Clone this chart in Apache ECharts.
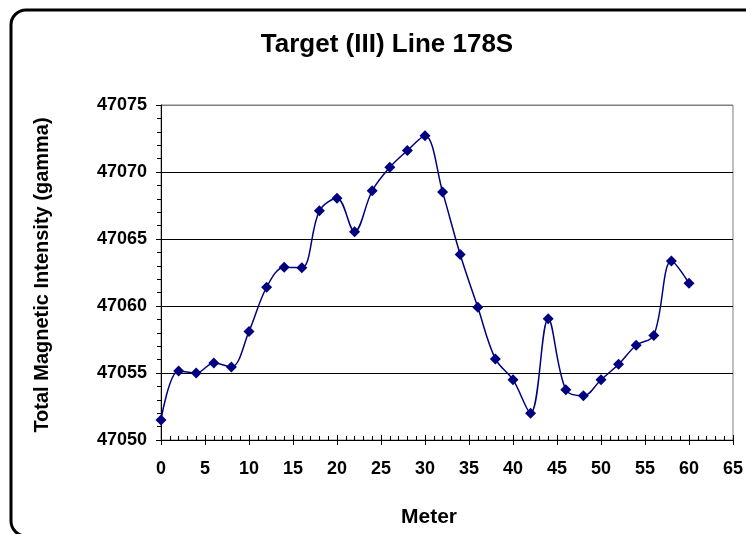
<!DOCTYPE html>
<html>
<head>
<meta charset="utf-8">
<script src="https://cdn.jsdelivr.net/npm/echarts@6/dist/echarts.min.js"></script>
<style>
  html, body { margin: 0; padding: 0; background: #fff; }
  #main { width: 746px; height: 534px; }
</style>
</head>
<body>
<div id="main"></div>
<script>
  // distance along the line (m)
  var meters = [0, 2, 4, 6, 8, 10, 12, 14, 16, 18, 20, 22, 24, 26, 28, 30,
                32, 34, 36, 38, 40, 42, 44, 46, 48, 50, 52, 54, 56, 58, 60];
  // total magnetic intensity (gamma)
  var intensity = [47051.5, 47055.15, 47055.0, 47055.75, 47055.45, 47058.1, 47061.4, 47062.9,
                   47062.85, 47067.1, 47068.05, 47065.55, 47068.6, 47070.35, 47071.6, 47072.7,
                   47068.5, 47063.85, 47059.9, 47056.05, 47054.5, 47052.0, 47059.05, 47053.75,
                   47053.3, 47054.5, 47055.65, 47057.07, 47057.8, 47063.35, 47061.7];

  var xMin = 0, xMax = 65, xStep = 5;
  var yMin = 47050, yMax = 47075, yStep = 5;

  var labelFont = { color: '#000', fontFamily: 'Liberation Sans, Arial', fontWeight: 'bold', fontSize: 18 };

  var points = meters.map(function (m, i) { return [m, intensity[i]]; });

  var myChart = echarts.init(document.getElementById('main'));
  myChart.setOption({
    backgroundColor: '#fff',
    animation: false,
    grid: {
      left: 161, right: 13, top: 105, bottom: 94,
      show: true, borderColor: '#808080', borderWidth: 1, backgroundColor: 'transparent'
    },
    xAxis: [{
      type: 'value', min: xMin, max: xMax, interval: xStep, position: 'bottom',
      axisLine: { lineStyle: { color: '#000', width: 1 } },
      axisTick: { show: true, inside: false, length: 5, lineStyle: { color: '#000' } },
      axisLabel: Object.assign({ margin: 20, showMaxLabel: true, showMinLabel: true }, labelFont),
      splitLine: { show: false }
    }, {
      // inner half of major ticks plus minor ticks
      type: 'value', min: xMin, max: xMax, interval: xStep, position: 'bottom', offset: 0,
      axisLine: { show: false },
      axisTick: { show: true, inside: true, length: 5, lineStyle: { color: '#000' } },
      minorTick: { show: true, splitNumber: 5, length: 4, lineStyle: { color: '#000' } },
      axisLabel: { show: false },
      splitLine: { show: false }
    }],
    yAxis: [{
      type: 'value', min: yMin, max: yMax, interval: yStep, position: 'left',
      axisLine: { show: true, lineStyle: { color: '#000', width: 1 } },
      axisTick: { show: true, inside: false, length: 5, lineStyle: { color: '#000' } },
      axisLabel: Object.assign({ margin: 14, formatter: function (v) { return String(v); } }, labelFont),
      splitLine: { show: true, lineStyle: { color: ['#000', '#000', '#000', '#000', '#000', '#808080'], width: 1 } }
    }, {
      type: 'value', min: yMin, max: yMax, interval: yStep, position: 'left', offset: 0,
      axisLine: { show: false },
      axisTick: { show: false },
      minorTick: { show: true, splitNumber: 5, length: 4, lineStyle: { color: '#000' } },
      axisLabel: { show: false },
      splitLine: { show: false }
    }],
    graphic: [
      {
        type: 'rect', z: -10, silent: true,
        shape: { x: 11, y: 10, width: 760, height: 526, r: 15 },
        style: { fill: 'none', stroke: '#000', lineWidth: 3 }
      },
      {
        type: 'text', silent: true, x: 387, y: 45,
        style: { text: 'Target (III) Line 178S', fill: '#000',
                 font: 'bold 26px "Liberation Sans", Arial', align: 'center', verticalAlign: 'middle' }
      },
      {
        type: 'text', silent: true, x: 42, y: 275, rotation: Math.PI / 2,
        style: { text: 'Total Magnetic Intensity (gamma)', fill: '#000',
                 font: 'bold 20px "Liberation Sans", Arial', align: 'center', verticalAlign: 'middle' }
      },
      {
        type: 'text', silent: true, x: 429, y: 517,
        style: { text: 'Meter', fill: '#000',
                 font: 'bold 21px "Liberation Sans", Arial', align: 'center', verticalAlign: 'middle' }
      }
    ],
    series: [{
      type: 'line',
      name: 'Line 178S',
      xAxisIndex: 0,
      yAxisIndex: 0,
      data: points,
      smooth: 0.35,
      symbol: 'diamond',
      symbolSize: 11,
      itemStyle: { color: '#000080' },
      lineStyle: { color: '#000080', width: 1.5 }
    }]
  });
</script>
</body>
</html>
